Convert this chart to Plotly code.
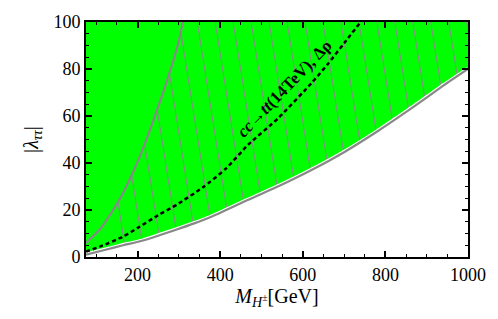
import numpy as np
import plotly.graph_objects as go

# ---- data ----
lower_M = [75, 120, 165, 213, 293, 337, 377, 461, 541, 621, 701, 781, 861, 941, 1000]
lower_L = [1.0, 3.0, 5.0, 7.0, 11.6, 14.3, 17.0, 23.8, 30.1, 37.0, 44.7, 53.5, 63.0, 73.0, 80.0]

steep_M = [75, 110, 153, 185, 217, 245, 273, 297, 310]
steep_L = [6.0, 12.0, 23.5, 34.6, 47.9, 61.5, 76.0, 90.0, 100.0]

dash_M = [75, 110, 165, 205, 250, 295, 357, 413, 469, 540, 621, 660, 700, 740]
dash_L = [2.3, 4.5, 8.7, 12.9, 17.8, 22.3, 29.5, 37.5, 48.0, 59.0, 74.0, 82.0, 91.0, 100.0]

x_range = [75, 1000]
y_range = [0, 100]
x_ticks = [200, 400, 600, 800, 1000]
y_ticks = [0, 20, 40, 60, 80, 100]

label_text = "<b><i>cc</i>→<i>tt</i>(14TeV), Δρ</b>"

GREEN = "#00ff00"
GRAY = "#888888"

fig = go.Figure()

# green allowed region (above lower curve)
fig.add_trace(go.Scatter(x=x_range, y=[100, 100], mode="lines",
                         line=dict(width=0), showlegend=False, hoverinfo="skip"))
fig.add_trace(go.Scatter(x=lower_M, y=lower_L, mode="lines",
                         line=dict(width=0, shape="spline", smoothing=0.6),
                         fill="tonexty", fillcolor=GREEN, showlegend=False, hoverinfo="skip"))

# hatch lines: region right of steep curve and above lower curve
k = 0.9          # slant (GeV per unit of lambda)
spacing = 43.5   # GeV
start = 173.3
lam = np.linspace(0, 100, 4001)
hx, hy = [], []
M0 = start
while M0 < 1100:
    Ms = M0 - k * lam
    low = np.interp(Ms, lower_M, lower_L)
    st = np.interp(Ms, steep_M, steep_L, right=1e9)
    valid = (lam >= low + 0.4) & (lam <= st)
    if valid.any():
        idx = np.where(valid)[0]
        a, b = idx[0], idx[-1]
        hx += [Ms[a], Ms[b], None]
        hy += [lam[a], lam[b], None]
    M0 += spacing
fig.add_trace(go.Scatter(x=hx, y=hy, mode="lines", line=dict(color="#8a8a8a", width=1),
                         showlegend=False, hoverinfo="skip"))

# boundary curves
fig.add_trace(go.Scatter(x=lower_M, y=lower_L, mode="lines",
                         line=dict(color="white", width=4.5, shape="spline", smoothing=0.6),
                         showlegend=False, hoverinfo="skip"))
fig.add_trace(go.Scatter(x=lower_M, y=lower_L, mode="lines",
                         line=dict(color=GRAY, width=2.2, shape="spline", smoothing=0.6),
                         showlegend=False, hoverinfo="skip"))
fig.add_trace(go.Scatter(x=steep_M, y=steep_L, mode="lines",
                         line=dict(color=GRAY, width=2.2, shape="spline", smoothing=0.6),
                         showlegend=False, hoverinfo="skip"))
fig.add_trace(go.Scatter(x=dash_M, y=dash_L, mode="lines",
                         line=dict(color="black", width=2.5, dash="4px,3px", shape="spline", smoothing=0.6),
                         showlegend=False, hoverinfo="skip"))

fig.add_annotation(x=556, y=71.5, xref="x", yref="y", text=label_text, showarrow=False,
                   textangle=-46, font=dict(family="Liberation Serif", size=17, color="black"))

axis_common = dict(showline=True, linecolor="black", linewidth=1.8, mirror="allticks",
                   ticks="inside", tickcolor="black", tickwidth=1.5, ticklen=6,
                   showgrid=False, zeroline=False,
                   tickfont=dict(family="Liberation Serif", size=18, color="black"))

fig.update_xaxes(range=x_range, tickvals=x_ticks,
                 minor=dict(dtick=50, ticks="inside", ticklen=3.5, tickcolor="black", tickwidth=1.2, showgrid=False),
                 title=dict(text="<i>M</i><sub><i>H</i><sup>±</sup></sub>[GeV]",
                            font=dict(family="Liberation Serif", size=20, color="black"), standoff=4),
                 **axis_common)
fig.update_yaxes(range=y_range, tickvals=y_ticks,
                 minor=dict(dtick=5, ticks="inside", ticklen=3.5, tickcolor="black", tickwidth=1.2, showgrid=False),
                 title=dict(text="|<i>λ</i><sub><i>ττ</i></sub>|",
                            font=dict(family="Liberation Serif", size=20, color="black"), standoff=10),
                 **axis_common)

fig.update_layout(width=498, height=319, margin=dict(l=86, r=27, t=19, b=62),
                  plot_bgcolor="white", paper_bgcolor="white", showlegend=False)

fig.write_html("out.html", config={"displayModeBar": False},
               post_script="document.body.style.margin='0';")
